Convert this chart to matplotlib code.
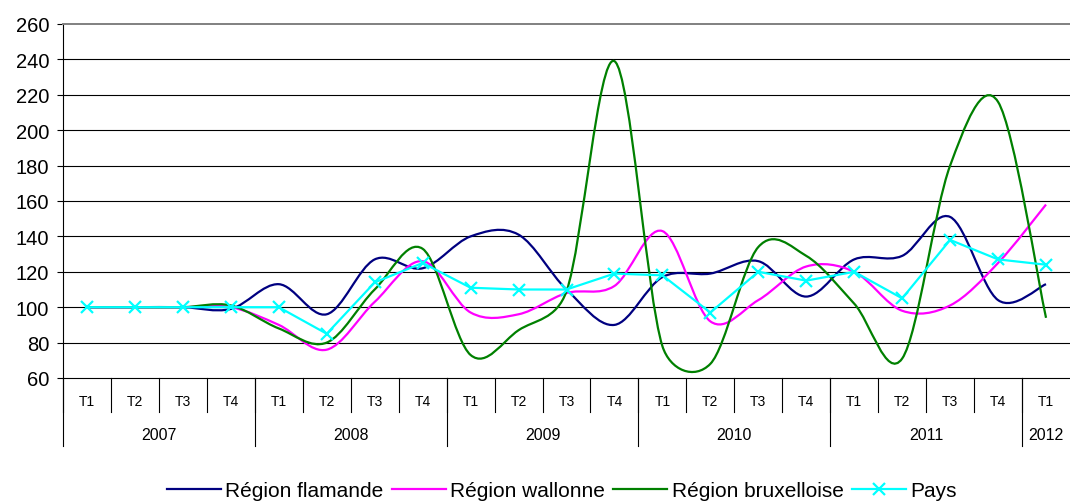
import numpy as np
import matplotlib
matplotlib.use("Agg")
import matplotlib.pyplot as plt
from matplotlib.path import Path
from matplotlib.patches import PathPatch
from matplotlib.lines import Line2D

plt.rcParams['font.family'] = ['Liberation Sans', 'DejaVu Sans']

# Data (indices, 2007 T1 = 100)
quarters = ['T1', 'T2', 'T3', 'T4'] * 5 + ['T1']
years = ['2007', '2008', '2009', '2010', '2011', '2012']
year_counts = [4, 4, 4, 4, 4, 1]

flamande = [100, 100, 100, 99, 113, 96, 127, 122, 140, 141, 110,
            90, 117, 119, 126, 106, 127, 129, 151, 104, 113]
wallonne = [100, 100, 100, 100, 90, 76, 103, 126, 97, 96, 108,
            112, 143, 92, 104, 123, 120, 98, 101, 125, 158]
bruxelloise = [100, 100, 100, 101, 88, 80, 110, 133, 73, 87, 109,
               239, 78, 68, 134, 129, 102, 71, 180, 216, 94]
pays = [100, 100, 100, 100, 100, 85, 114, 125, 111, 110, 110,
        119, 118, 97, 120, 115, 120, 105, 138, 127, 124]

names = ['Région flamande', 'Région wallonne', 'Région bruxelloise', 'Pays']
colors = ['#000080', '#FF00FF', '#008000', '#00FFFF']


def smooth_path(ax, xs, ys):
    # Excel-like smoothed line: bezier with tangents (p2-p0)/6,
    # capped at half the segment length, worked out in pixel space
    pts = ax.transData.transform(np.column_stack([xs, ys]))
    n = len(pts)
    verts = [pts[0]]
    codes = [Path.MOVETO]
    for i in range(n - 1):
        p0 = pts[max(i - 1, 0)]
        p1 = pts[i]
        p2 = pts[i + 1]
        p3 = pts[min(i + 2, n - 1)]
        half = np.hypot(*(p2 - p1)) / 2
        t1 = (p2 - p0) / 6
        t2 = (p3 - p1) / 6
        if np.hypot(*t1) > half:
            t1 = t1 * half / np.hypot(*t1)
        if np.hypot(*t2) > half:
            t2 = t2 * half / np.hypot(*t2)
        verts += [p1 + t1, p2 - t2, p2]
        codes += [Path.CURVE4] * 3
    verts = ax.transData.inverted().transform(np.array(verts))
    return Path(verts, codes)


fig = plt.figure(figsize=(10.7, 5.02), dpi=100)
ax = fig.add_axes([63 / 1070, 1 - 379 / 502, 1 - 63 / 1070, 354 / 502])

x = np.arange(len(quarters))
ax.set_xlim(-0.5, len(quarters) - 0.5)
ax.set_ylim(60, 260)
ax.set_yticks(range(60, 261, 20))
ax.set_xticks([])
ax.tick_params(axis='y', labelsize=14.5, length=4, width=0.8, pad=6)

for v in range(80, 260, 20):
    ax.axhline(v, color='black', lw=0.8, zorder=1)

ax.spines['top'].set_color('#808080')
ax.spines['top'].set_linewidth(1.4)
ax.spines['right'].set_visible(False)
ax.spines['left'].set_linewidth(0.8)
ax.spines['bottom'].set_linewidth(0.8)

for ys, c in zip([flamande, wallonne, bruxelloise], colors[:3]):
    ax.add_patch(PathPatch(smooth_path(ax, x, ys), fill=False,
                           edgecolor=c, lw=1.6, zorder=3))
ax.plot(x, pays, color=colors[3], lw=1.6, marker='x', ms=9, mew=1.6, zorder=4)

# category axis with two levels
tr = ax.get_xaxis_transform()
for i, q in enumerate(quarters):
    ax.text(i, -0.066, q, transform=tr, ha='center', va='center', fontsize=10)
for i in range(len(quarters)):
    ax.plot([i - 0.5, i - 0.5], [0, -0.097], transform=tr, color='black',
            lw=0.8, clip_on=False)
start = 0
for y, cnt in zip(years, year_counts):
    ax.text(start + cnt / 2 - 0.5, -0.16, y, transform=tr, ha='center',
            va='center', fontsize=11.5)
    ax.plot([start - 0.5, start - 0.5], [0, -0.192], transform=tr,
            color='black', lw=0.8, clip_on=False)
    start += cnt

handles = [Line2D([], [], color=c, lw=1.6) for c in colors[:3]]
handles.append(Line2D([], [], color=colors[3], lw=1.6, marker='x', ms=9, mew=1.6))
fig.legend(handles, names, loc='center', bbox_to_anchor=(0.525, 0.021),
           ncol=4, frameon=False, fontsize=15, handlelength=2.6,
           handletextpad=0.2, columnspacing=0.4, numpoints=1)

fig.savefig('out.png', dpi=100)
